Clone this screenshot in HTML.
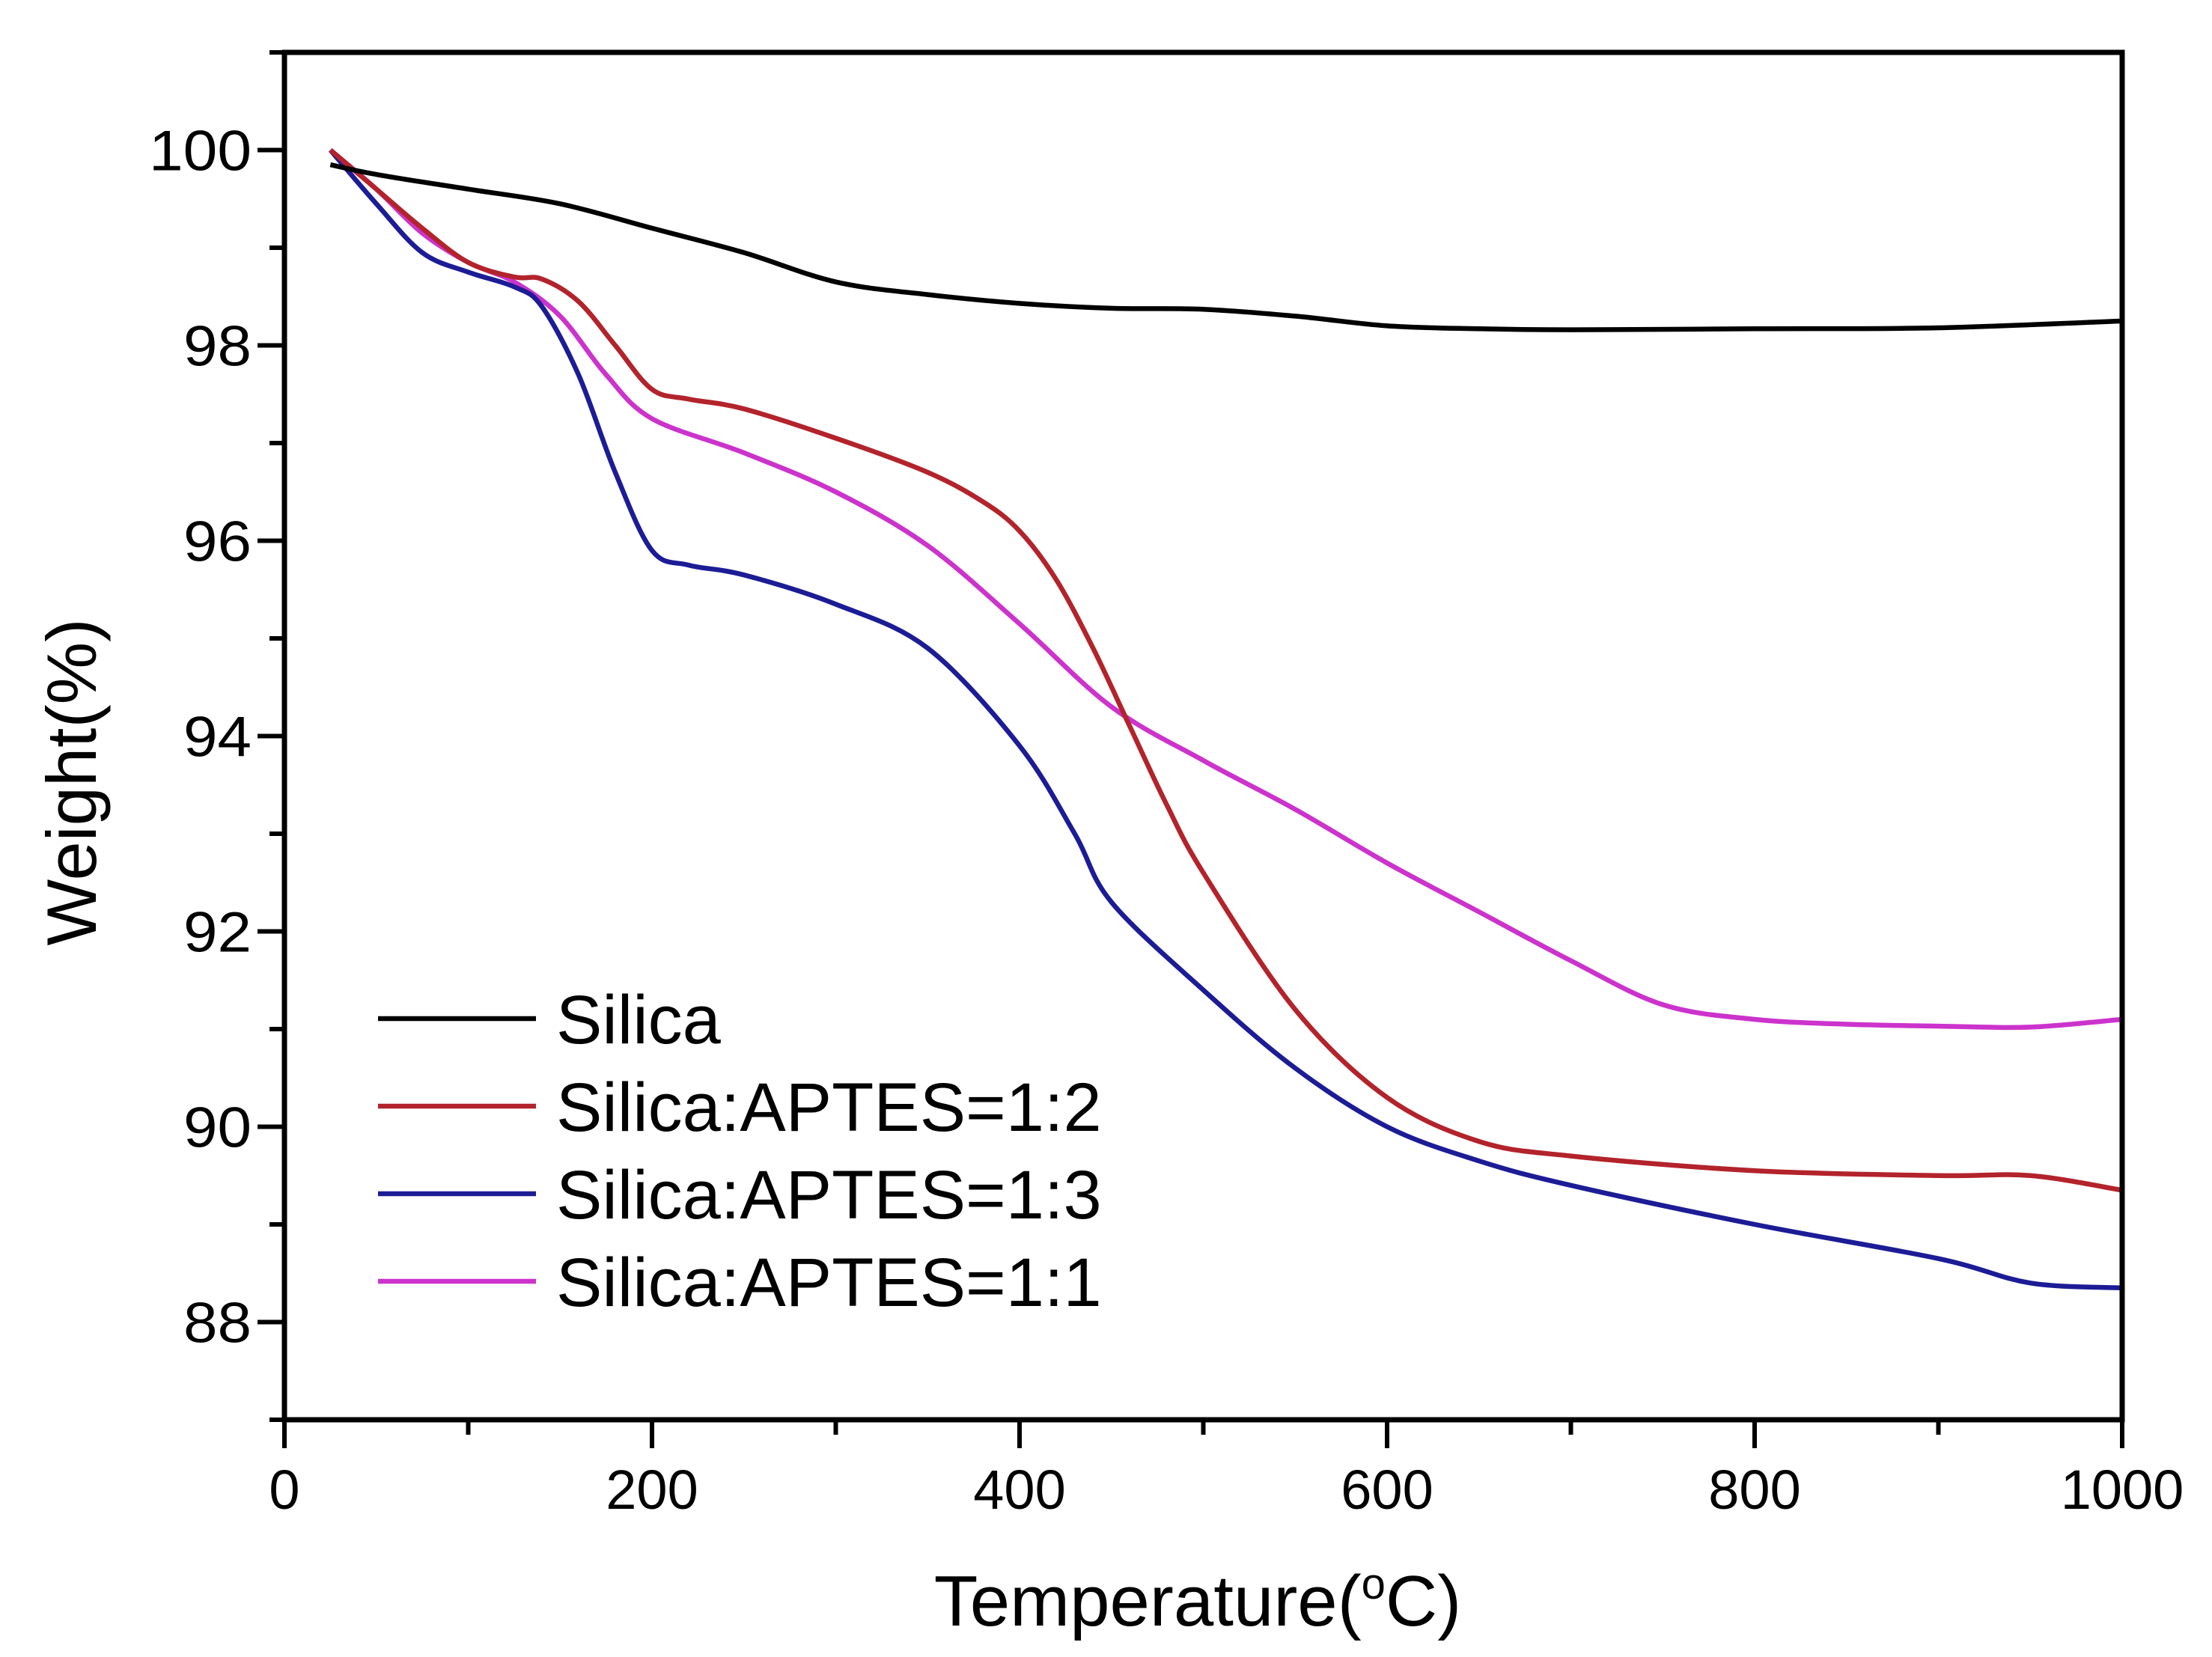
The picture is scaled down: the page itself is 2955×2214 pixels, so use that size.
<!DOCTYPE html>
<html><head><meta charset="utf-8"><style>
html,body{margin:0;padding:0;background:#fff;}
svg{display:block;font-family:"Liberation Sans",Arial,sans-serif;}
</style></head><body>
<svg id="chart" width="2955" height="2214" viewBox="0 0 2955 2214" xmlns="http://www.w3.org/2000/svg"></svg>
<script>
const xTicks=[0,200,400,600,800,1000];
const yTicks=[88,90,92,94,96,98,100];
const seriesNames=["Silica","Silica:APTES=1:2","Silica:APTES=1:3","Silica:APTES=1:1"];
const seriesColors=["#000000","#b3232b","#1c1c96","#cc33cc"];
const silicaT=[25,50,100,150,200,250,300,350,400,450,500,550,600,650,700,800,900,1000];
const silicaW=[99.85,99.75,99.6,99.45,99.2,98.95,98.65,98.52,98.43,98.38,98.37,98.3,98.2,98.17,98.16,98.17,98.18,98.25];
const r12T=[25,50,75,100,125,140,160,180,200,220,250,300,350,380,400,420,440,460,480,500,550,600,650,700,800,900,950,1000];
const r12W=[100,99.6,99.2,98.85,98.7,98.68,98.45,98.0,97.55,97.45,97.35,97.05,96.7,96.4,96.1,95.6,94.9,94.1,93.3,92.6,91.2,90.3,89.85,89.7,89.55,89.5,89.5,89.35];
const r13T=[25,50,75,100,125,140,160,180,200,220,250,300,350,400,430,450,500,550,600,650,700,800,900,950,1000];
const r13W=[100,99.45,98.95,98.75,98.6,98.4,97.7,96.7,95.9,95.75,95.65,95.35,94.9,93.9,93.0,92.3,91.4,90.6,90.0,89.65,89.4,89.0,88.65,88.4,88.35];
const r11T=[25,50,75,100,125,150,175,200,250,300,350,400,450,500,550,600,650,700,750,800,850,900,950,1000];
const r11W=[100,99.6,99.15,98.85,98.65,98.3,97.7,97.25,96.9,96.5,95.95,95.15,94.3,93.75,93.25,92.7,92.2,91.7,91.25,91.1,91.05,91.03,91.02,91.1];

const NS="http://www.w3.org/2000/svg";
const svg=document.getElementById('chart');
const X0=380,X1=2835,Y0=1897,Y1=70;
const xMin=0,xMax=1000,yMin=87,yMax=101;
function sx(v){return X0+(v-xMin)/(xMax-xMin)*(X1-X0);}
function sy(v){return Y0-(v-yMin)/(yMax-yMin)*(Y0-Y1);}
function mk(tag,attrs){const e=document.createElementNS(NS,tag);for(const k in attrs)e.setAttribute(k,attrs[k]);svg.appendChild(e);return e;}
function smooth(pts){
  let d='M'+pts[0][0].toFixed(1)+' '+pts[0][1].toFixed(1);
  for(let i=0;i<pts.length-1;i++){
    const p0=pts[Math.max(0,i-1)],p1=pts[i],p2=pts[i+1],p3=pts[Math.min(pts.length-1,i+2)];
    const c1x=p1[0]+(p2[0]-p0[0])/6,c1y=p1[1]+(p2[1]-p0[1])/6;
    const c2x=p2[0]-(p3[0]-p1[0])/6,c2y=p2[1]-(p3[1]-p1[1])/6;
    d+=' C'+c1x.toFixed(1)+' '+c1y.toFixed(1)+' '+c2x.toFixed(1)+' '+c2y.toFixed(1)+' '+p2[0].toFixed(1)+' '+p2[1].toFixed(1);
  }
  return d;
}

const allT=[silicaT,r12T,r13T,r11T],allW=[silicaW,r12W,r13W,r11W];
const seriesKeys=["silica","aptes-1-2","aptes-1-3","aptes-1-1"];
for(let s=3;s>=0;s--){
  const pts=allT[s].map((t,i)=>[sx(t),sy(allW[s][i])]);
  const p=mk('path',{d:smooth(pts),fill:'none',stroke:seriesColors[s],'stroke-width':6.5,'stroke-linejoin':'round'});
  
  
}
const fr=mk('rect',{x:X0,y:Y1,width:X1-X0,height:Y0-Y1,fill:'none',stroke:'#000','stroke-width':7});


for(let v=0;v<=1000;v+=100){
  const major=v%200===0;
  const t=mk('line',{x1:sx(v),x2:sx(v),y1:Y0,y2:Y0+(major?38:20),stroke:'#000','stroke-width':6});
  
  
}
xTicks.forEach(v=>{
  const t=mk('text',{x:sx(v),y:2016,'text-anchor':'middle','font-size':74});
  t.textContent=v;
  
  
});
for(let v=87;v<=101;v+=1){
  const major=v%2===0;
  const t=mk('line',{x1:X0,x2:X0-(major?36:20),y1:sy(v),y2:sy(v),stroke:'#000','stroke-width':6});
  
  
}
yTicks.forEach(v=>{
  const t=mk('text',{x:336,y:sy(v)+27,'text-anchor':'end','font-size':76,'textLength':v>=100?137:91,'lengthAdjust':'spacingAndGlyphs'});
  t.textContent=v;
  
  
});
const xt=mk('text',{x:1600,y:2172,'text-anchor':'middle','font-size':96});
xt.innerHTML='Temperature(<tspan font-size="58" dy="-36">o</tspan><tspan dy="36">C)</tspan>';


const yt=mk('text',{x:0,y:0,'text-anchor':'middle','font-size':94,transform:'translate(128,1045) rotate(-90)'});
yt.textContent='Weight(%)';


const legY=[1361,1478,1595,1712];
seriesNames.forEach((n,i)=>{
  const l=mk('line',{x1:505,x2:716,y1:legY[i],y2:legY[i],stroke:seriesColors[i],'stroke-width':6.5});
  
  
  const t=mk('text',{x:743,y:legY[i]+33,'font-size':92});
  t.textContent=n;
  
  
});
</script>
</body></html>
